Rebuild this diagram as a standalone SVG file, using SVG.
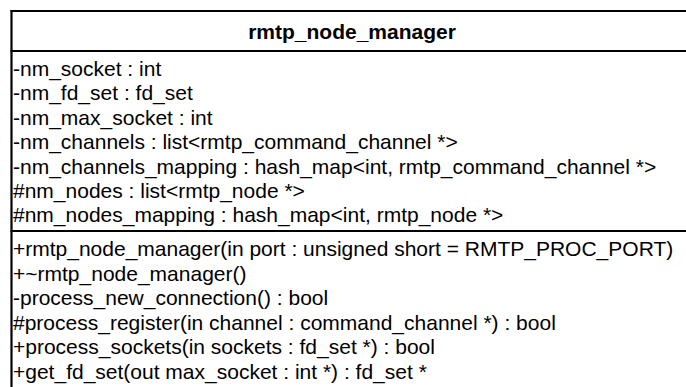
<svg xmlns="http://www.w3.org/2000/svg" width="686" height="387" viewBox="0 0 686 387">
<style>
.t{font-family:"Liberation Sans",Arial,sans-serif;font-size:21px;fill:#000}
.title{font-weight:bold}
.ln{stroke:#000;stroke-width:2.2;fill:none}
</style>
<rect x="0" y="0" width="686" height="387" fill="#fff"/>
<g id="rmtp_node_manager">
<line class="ln" x1="11.5" y1="10" x2="11.5" y2="387"/>
<line class="ln" x1="10.5" y1="11" x2="686" y2="11"/>
<line class="ln" x1="10.5" y1="51" x2="686" y2="51"/>
<line class="ln" x1="10.5" y1="231" x2="686" y2="231"/>
<text class="t title" x="352" y="39" text-anchor="middle">rmtp_node_manager</text>
<text class="t" x="13" y="76">-nm_socket : int</text>
<text class="t" x="13" y="100.4">-nm_fd_set : fd_set</text>
<text class="t" x="13" y="124.8">-nm_max_socket : int</text>
<text class="t" x="13" y="149.2">-nm_channels : list&lt;rmtp_command_channel *&gt;</text>
<text class="t" x="13" y="173.6">-nm_channels_mapping : hash_map&lt;int, rmtp_command_channel *&gt;</text>
<text class="t" x="13" y="198">#nm_nodes : list&lt;rmtp_node *&gt;</text>
<text class="t" x="13" y="222.4">#nm_nodes_mapping : hash_map&lt;int, rmtp_node *&gt;</text>
<text class="t" x="13" y="256">+rmtp_node_manager(in port : unsigned short = RMTP_PROC_PORT)</text>
<text class="t" x="13" y="280.5">+~rmtp_node_manager()</text>
<text class="t" x="13" y="305">-process_new_connection() : bool</text>
<text class="t" x="13" y="329.5">#process_register(in channel : command_channel *) : bool</text>
<text class="t" x="13" y="354">+process_sockets(in sockets : fd_set *) : bool</text>
<text class="t" x="13" y="378.5">+get_fd_set(out max_socket : int *) : fd_set *</text>
</g>
<g id="connectors"/>
</svg>
